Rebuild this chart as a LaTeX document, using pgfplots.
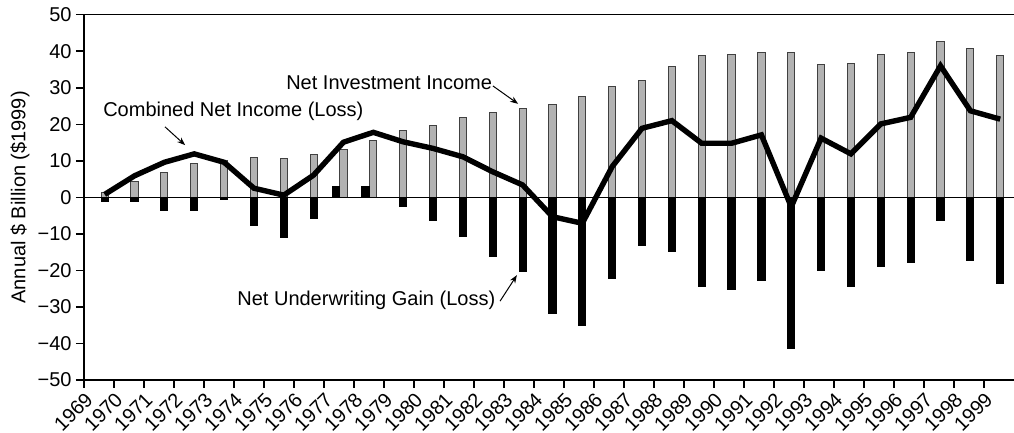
\documentclass[border=0pt]{standalone}
\usepackage{fontspec}
\setmainfont{Liberation Sans}
\usepackage{pgfplots}
\pgfplotsset{compat=1.18}
\usepackage{pgfplotstable}
\usetikzlibrary{arrows.meta}

% investment income, underwriting gain, combined net income ($bn 1999)
% sh: sideways shift of the black bar where it is positive
\pgfplotstableread{
year inv  uw    sh    net
1969 1.3  -1.2  0     0.8
1970 4.3  -1.1  0     5.9
1971 6.7  -3.6  0     9.6
1972 9.4  -3.6  0     11.9
1973 10.2 -0.6  0     9.6
1974 10.9 -7.8  0     2.5
1975 10.7 -11.0 0     0.6
1976 11.6 -5.7  0     6.1
1977 13.2 2.9   -0.26 15.1
1978 15.6 3.1   -0.26 17.8
1979 18.3 -2.4  0     15.2
1980 19.6 -6.4  0     13.4
1981 21.9 -10.6 0     11.1
1982 23.2 -16.3 0     7.0
1983 24.2 -20.2 0     3.4
1984 25.4 -31.7 0     -5.3
1985 27.6 -35.1 0     -7.1
1986 30.4 -22.3 0     8.4
1987 32.0 -13.1 0     18.9
1988 35.8 -14.9 0     21.0
1989 38.8 -24.5 0     14.8
1990 39.2 -25.1 0     14.8
1991 39.7 -22.9 0     17.1
1992 39.7 -41.4 0     -2.6
1993 36.4 -19.9 0     16.2
1994 36.7 -24.3 0     11.9
1995 39.2 -18.9 0     20.1
1996 39.7 -17.9 0     21.9
1997 42.7 -6.4  0     36.0
1998 40.7 -17.2 0     23.7
1999 38.9 -23.7 0     21.4
}\ptable

\newcommand{\lbl}{\fontsize{10}{12}\selectfont}

\begin{document}
\begin{tikzpicture}
\path[use as bounding box] (-42pt,-26.5pt) rectangle (465pt,190pt);
\begin{axis}[
  scale only axis, width=465pt, height=182.65pt,
  xmin=1969, xmax=2000, ymin=-50, ymax=50,
  axis x line*=bottom, axis y line*=left,
  tick align=outside, major tick length=4pt,
  xtick={1969,...,1999}, ytick={-50,-40,...,50},
  yticklabels={−50,−40,−30,−20,−10,0,10,20,30,40,50},
  /pgf/number format/assume math mode=true,
  /pgf/number format/1000 sep={},
  tick label style={font=\lbl},
  xticklabel style={rotate=45, anchor=north east, inner sep=1pt},
  yticklabel style={inner sep=2pt},
  ylabel={Annual \$ Billion (\$1999)},
  ylabel style={font=\lbl, at={(axis description cs:-0.0688,0.5)}, anchor=center},
  axis line style={line width=0.75pt},
  tick style={line width=0.75pt, black},
  clip=false,
]
\addplot[ybar, bar width=0.24, bar shift=0pt, fill=black!30, draw=black!75, line width=0.5pt]
  table[x expr={1969.69+(\thisrow{year}-1969)*0.995}, y=inv]{\ptable};
\addplot[ybar, bar width=0.24, bar shift=0pt, fill=black, draw=black, line width=0.5pt]
  table[x expr={1969.69+(\thisrow{year}-1969)*0.995+\thisrow{sh}}, y=uw]{\ptable};
\draw[line width=0.5pt] (axis cs:1969,0) -- (axis cs:2000,0);
\addplot[black, line width=2.7pt, mark=none, line join=miter]
  table[x expr={1969.69+(\thisrow{year}-1969)*0.995}, y=net]{\ptable};
\draw[line width=0.75pt] (rel axis cs:0,1) -- (rel axis cs:1,1);

\node[anchor=west, inner sep=0, font=\lbl] at (axis cs:1975.73,31.3) {Net Investment Income};
\draw[line width=0.5pt, -{Stealth[length=4pt,width=3pt]}] (axis cs:1982.63,30.5) -- (axis cs:1983.47,25.6);
\node[anchor=west, inner sep=0, font=\lbl] at (axis cs:1969.63,23.5) {Combined Net Income (Loss)};
\draw[line width=0.5pt, -{Stealth[length=4pt,width=3pt]}] (axis cs:1971.7,19.3) -- (axis cs:1972.37,14.3);
\node[anchor=west, inner sep=0, font=\lbl] at (axis cs:1974.1,-28.1) {Net Underwriting Gain (Loss)};
\draw[line width=0.5pt, -{Stealth[length=4pt,width=3pt]}] (axis cs:1982.87,-28.4) -- (axis cs:1983.43,-21.3);
\end{axis}
\node[anchor=base west, inner sep=0, font=\bfseries\fontsize{11}{13}\selectfont] at (193.4pt,193.2pt) {Property/Casualty};
\end{tikzpicture}
\end{document}
